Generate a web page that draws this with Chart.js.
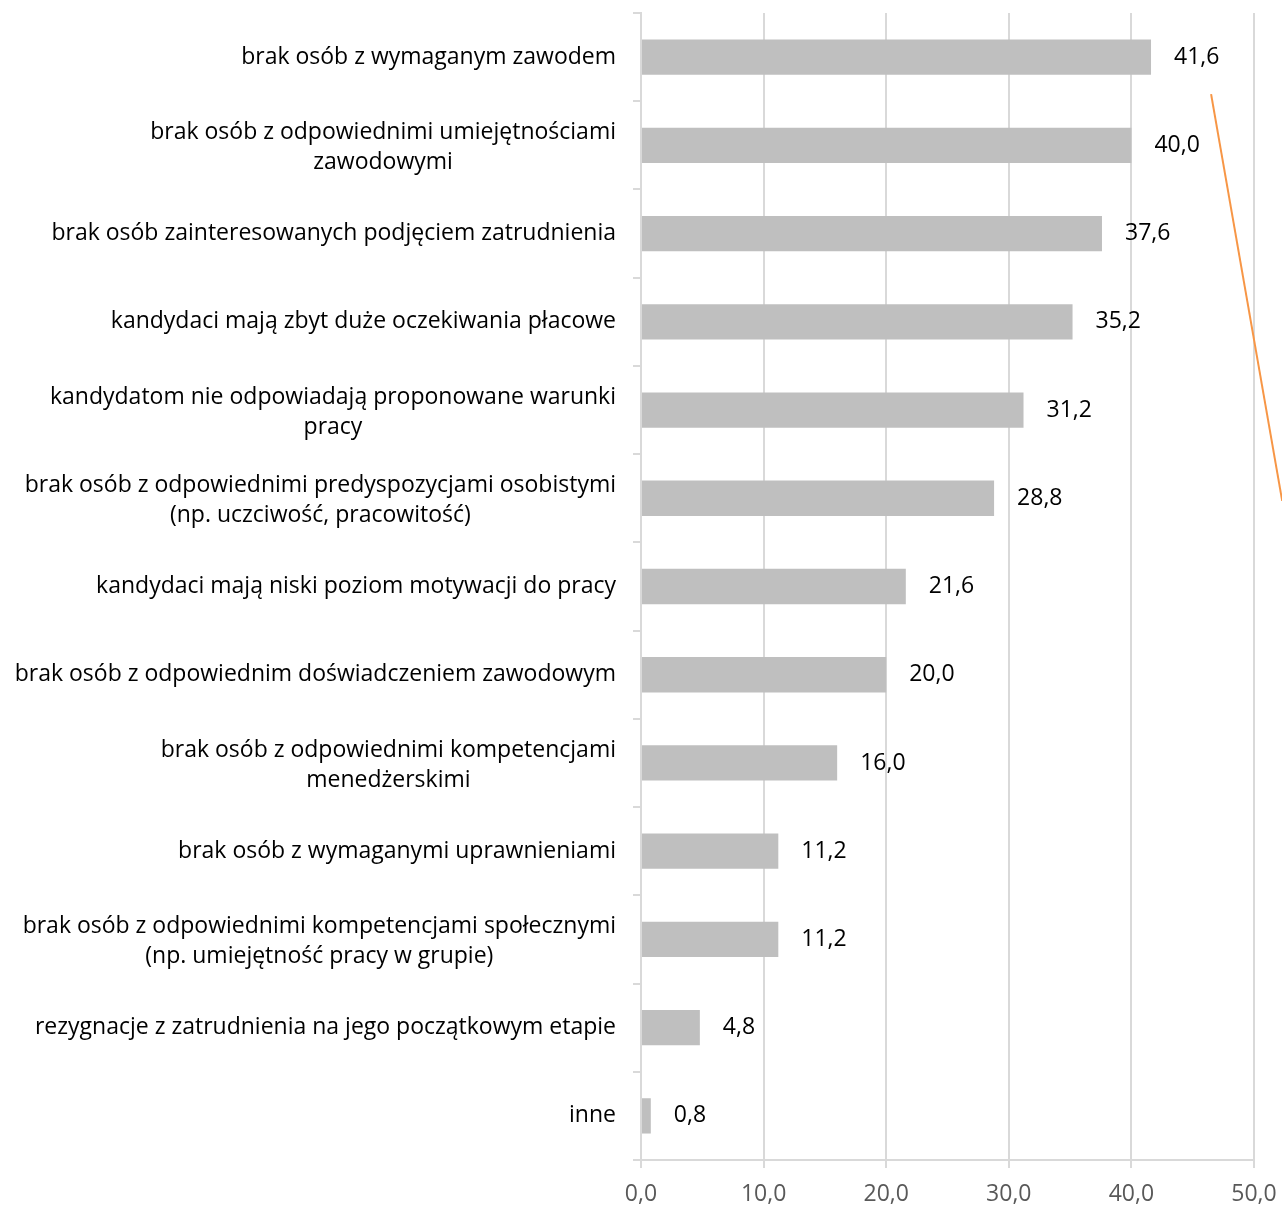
<!DOCTYPE html>
<html lang="pl">
<head>
    <meta charset="UTF-8">
    <title>Przyczyny trudności rekrutacyjnych</title>
    <style>
        body {
            margin: 0;
            background: #fff;
        }
        #chartContainer {
            width: 1282px;
            height: 1208px;
        }
    </style>
    <script src="https://cdn.jsdelivr.net/npm/chart.js"></script>
</head>
<body>
    <div id="chartContainer">
        <canvas id="reasonsChart"></canvas>
    </div>

    <script>
        const reasons = [
            'brak osób z wymaganym zawodem',
            ['brak osób z odpowiednimi umiejętnościami', 'zawodowymi'],
            'brak osób zainteresowanych podjęciem zatrudnienia',
            'kandydaci mają zbyt duże oczekiwania płacowe',
            ['kandydatom nie odpowiadają proponowane warunki', 'pracy'],
            ['brak osób z odpowiednimi predyspozycjami osobistymi', '(np. uczciwość, pracowitość)'],
            'kandydaci mają niski poziom motywacji do pracy',
            'brak osób z odpowiednim doświadczeniem zawodowym',
            ['brak osób z odpowiednimi kompetencjami', 'menedżerskimi'],
            'brak osób z wymaganymi uprawnieniami',
            ['brak osób z odpowiednimi kompetencjami społecznymi', '(np. umiejętność pracy w grupie)'],
            'rezygnacje z zatrudnienia na jego początkowym etapie',
            'inne'
        ];
        const percents = [41.6, 40.0, 37.6, 35.2, 31.2, 28.8, 21.6, 20.0, 16.0, 11.2, 11.2, 4.8, 0.8];
        const axisMin = 0;
        const axisMax = 50;
        const axisStep = 10;

        const fontFamily = '"Open Sans", sans-serif';
        const fontSize = 23;
        const labelFont = fontSize + 'px ' + fontFamily;
        const gridColor = '#d9d9d9';

        function formatPl(v) {
            return v.toFixed(1).replace('.', ',');
        }

        // category labels: block right-aligned to the axis, lines centred inside the block
        const categoryLabels = {
            id: 'categoryLabels',
            afterDraw(chart) {
                const ctx = chart.ctx;
                const yScale = chart.scales.y;
                const rightEdge = yScale.right - 25;
                const lineHeight = 30;
                ctx.save();
                ctx.font = labelFont;
                ctx.fillStyle = '#000';
                ctx.textAlign = 'center';
                ctx.textBaseline = 'middle';
                reasons.forEach((label, i) => {
                    const lines = Array.isArray(label) ? label : [label];
                    const widest = Math.max(...lines.map(l => ctx.measureText(l).width));
                    const cx = rightEdge - widest / 2;
                    const cy = yScale.getPixelForValue(i) + (lines.length > 1 ? 2 : 0);
                    const y0 = cy - (lines.length - 1) * lineHeight / 2;
                    lines.forEach((line, k) => ctx.fillText(line, cx, y0 + k * lineHeight));
                });
                ctx.restore();
            }
        };

        // value labels to the right of each bar
        const valueLabels = {
            id: 'valueLabels',
            afterDatasetsDraw(chart) {
                const ctx = chart.ctx;
                const meta = chart.getDatasetMeta(0);
                ctx.save();
                ctx.font = labelFont;
                ctx.fillStyle = '#000';
                ctx.textAlign = 'left';
                ctx.textBaseline = 'middle';
                meta.data.forEach((bar, i) => {
                    ctx.fillText(formatPl(percents[i]), bar.x + 23, bar.y);
                });
                ctx.restore();
            }
        };

        // thin orange stroke crossing the right edge
        const strayLine = {
            id: 'strayLine',
            afterDraw(chart) {
                const ctx = chart.ctx;
                const x = chart.scales.x;
                const y = chart.scales.y;
                ctx.save();
                ctx.strokeStyle = '#f79646';
                ctx.lineWidth = 2;
                ctx.beginPath();
                ctx.moveTo(x.getPixelForValue(46.5), y.getPixelForValue(0.42));
                ctx.lineTo(x.getPixelForValue(52.3), y.getPixelForValue(5.03));
                ctx.stroke();
                ctx.restore();
            }
        };

        const ctx = document.getElementById('reasonsChart').getContext('2d');
        new Chart(ctx, {
            type: 'bar',
            data: {
                labels: reasons,
                datasets: [{
                    data: percents,
                    backgroundColor: '#bfbfbf',
                    borderWidth: 0,
                    barPercentage: 0.4,
                    categoryPercentage: 1.0
                }]
            },
            options: {
                indexAxis: 'y',
                responsive: true,
                maintainAspectRatio: false,
                animation: false,
                layout: {
                    padding: { top: 13, right: 28, bottom: 0, left: 0 }
                },
                plugins: {
                    legend: { display: false },
                    tooltip: { enabled: false }
                },
                scales: {
                    x: {
                        min: axisMin,
                        max: axisMax,
                        ticks: {
                            stepSize: axisStep,
                            color: '#595959',
                            font: { family: fontFamily, size: fontSize },
                            padding: 13,
                            callback: v => formatPl(v)
                        },
                        grid: {
                            color: gridColor,
                            lineWidth: 2,
                            tickLength: 8
                        },
                        border: { color: gridColor, width: 2 },
                        afterFit(scale) {
                            scale.height = 48;
                            scale.paddingLeft = 0;
                            scale.paddingRight = 0;
                        }
                    },
                    y: {
                        ticks: { display: false },
                        grid: {
                            offset: true,
                            drawOnChartArea: false,
                            color: gridColor,
                            lineWidth: 2,
                            tickLength: 8
                        },
                        border: { color: gridColor, width: 2 },
                        afterFit(scale) {
                            scale.width = 641;
                        }
                    }
                }
            },
            plugins: [categoryLabels, valueLabels, strayLine]
        });
    </script>
</body>
</html>
